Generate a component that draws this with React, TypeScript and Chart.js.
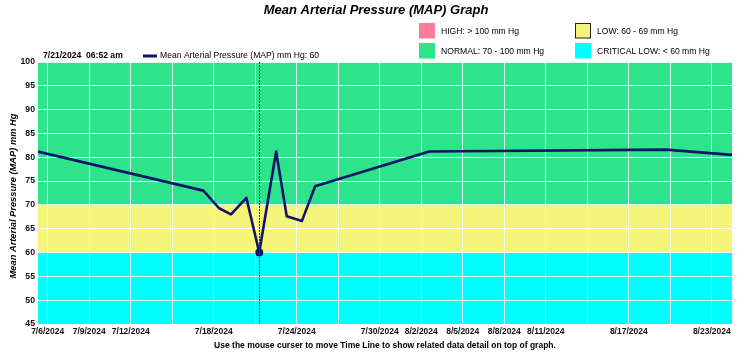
import React, { useEffect, useRef } from "react";
import { Chart, registerables } from "chart.js";

Chart.register(...registerables);

// Days counted from 7/6/2024 00:00
const tickDays = [0, 3, 6, 9, 12, 15, 18, 21, 24, 27, 30, 33, 36, 39, 42, 45, 48];
const tickLabels = [
  "7/6/2024", "7/9/2024", "7/12/2024", "", "7/18/2024", "", "7/24/2024", "",
  "7/30/2024", "8/2/2024", "8/5/2024", "8/8/2024", "8/11/2024", "", "8/17/2024", "", "8/23/2024",
];
const readingDays = [-0.7, 11.25, 12.39, 13.25, 14.36, 15.29, 16.51, 17.28, 18.37, 19.33, 27.57, 44.7, 49.46];
const mapValues = [81.2, 73.0, 69.3, 68.0, 71.5, 60, 81.2, 67.6, 66.6, 73.9, 81.2, 81.6, 80.5];
const selectedIndex = 5;
const selectedLabel = "7/21/2024  06:52 am";
const seriesName = "Mean Arterial Pressure (MAP) mm Hg";

const bandFrom = [45, 60, 70];
const bandTo = [60, 70, 100];
const bandColors = ["#00ffff", "#f5f57a", "#2ee48a"];

const legendLabels = ["HIGH: > 100 mm Hg", "NORMAL: 70 - 100 mm Hg", "LOW: 60 - 69 mm Hg", "CRITICAL LOW: < 60 mm Hg"];
const legendColors = ["#ff7b9c", "#2ee48a", "#f5f57a", "#00ffff"];

const SANS = "'Liberation Sans', Arial, sans-serif";
const LINE = "#12126a";

const decorPlugin = {
  id: "decor",
  beforeDraw(chart: any) {
    const { ctx, chartArea: a, scales } = chart;
    const y = scales.y;
    ctx.save();
    for (let i = 0; i < bandFrom.length; i++) {
      const top = y.getPixelForValue(bandTo[i]);
      const bot = y.getPixelForValue(bandFrom[i]);
      ctx.fillStyle = bandColors[i];
      ctx.fillRect(a.left, top, a.right - a.left, bot - top);
    }
    ctx.restore();
  },
  afterDatasetsDraw(chart: any) {
    const { ctx, chartArea: a, scales } = chart;
    const x = scales.x.getPixelForValue(readingDays[selectedIndex]);
    ctx.save();
    ctx.strokeStyle = "#333";
    ctx.lineWidth = 1;
    ctx.setLineDash([2, 1]);
    ctx.beginPath();
    ctx.moveTo(Math.round(x) + 0.5, a.top);
    ctx.lineTo(Math.round(x) + 0.5, a.bottom);
    ctx.stroke();
    ctx.restore();
  },
  afterDraw(chart: any) {
    const { ctx } = chart;
    ctx.save();
    ctx.fillStyle = "#000";
    ctx.textBaseline = "middle";
    // title
    ctx.textAlign = "center";
    ctx.font = `italic bold 13px ${SANS}`;
    ctx.fillText("Mean Arterial Pressure (MAP) Graph", 376, 10);
    // bottom note
    ctx.font = `bold 8.5px ${SANS}`;
    ctx.fillText("Use the mouse curser to move Time Line to show related data detail on top of graph.", 385, 346);
    // y title
    ctx.save();
    ctx.translate(13, 196);
    ctx.rotate(-Math.PI / 2);
    ctx.font = `italic bold 9.3px ${SANS}`;
    ctx.fillText(seriesName, 0, 0);
    ctx.restore();
    // selected date
    ctx.textAlign = "left";
    ctx.font = `bold 8.6px ${SANS}`;
    ctx.fillText(selectedLabel, 43, 56);
    // series legend
    ctx.strokeStyle = LINE;
    ctx.lineWidth = 3;
    ctx.beginPath();
    ctx.moveTo(143, 56);
    ctx.lineTo(157, 56);
    ctx.stroke();
    ctx.font = `8.6px ${SANS}`;
    ctx.fillText(`${seriesName}: ${mapValues[selectedIndex]}`, 160, 56);
    // range legend
    const pos = [
      [419, 23],
      [419, 43],
      [575, 23],
      [575, 43],
    ];
    for (let i = 0; i < legendLabels.length; i++) {
      const [bx, by] = pos[i];
      ctx.fillStyle = legendColors[i];
      ctx.fillRect(bx, by, 16, 15.5);
      if (i === 2) {
        ctx.strokeStyle = "#222";
        ctx.lineWidth = 1;
        ctx.strokeRect(bx + 0.5, by + 0.5, 15, 14.5);
      }
      ctx.fillStyle = "#000";
      ctx.font = `8.6px ${SANS}`;
      ctx.fillText(legendLabels[i], bx + 22, by + 8.5);
    }
    ctx.restore();
  },
};

export default function App() {
  const ref = useRef<HTMLCanvasElement>(null);
  useEffect(() => {
    if (!ref.current) return;
    const points = readingDays.map((d, i) => ({ x: d, y: mapValues[i] }));
    const chart = new Chart(ref.current, {
      type: "line",
      data: {
        datasets: [
          {
            label: seriesName,
            data: points,
            borderColor: LINE,
            backgroundColor: LINE,
            borderWidth: 2.6,
            borderJoinStyle: "round",
            pointRadius: mapValues.map((_, i) => (i === selectedIndex ? 4 : 0)),
            pointBackgroundColor: LINE,
            pointBorderWidth: 0,
            tension: 0,
            fill: false,
          },
        ],
      },
      options: {
        animation: false,
        responsive: true,
        maintainAspectRatio: false,
        devicePixelRatio: 1,
        layout: { padding: { top: 62, right: 18, bottom: 0, left: 0 } },
        plugins: { legend: { display: false }, tooltip: { enabled: false }, title: { display: false } },
        events: [],
        scales: {
          x: {
            type: "linear",
            min: readingDays[0],
            max: readingDays[readingDays.length - 1],
            afterBuildTicks: (s: any) => {
              s.ticks = tickDays.map((v) => ({ value: v }));
            },
            afterFit: (s: any) => {
              s.height = 30;
            },
            ticks: {
              autoSkip: false,
              maxRotation: 0,
              padding: 3,
              color: "#111",
              font: { family: SANS, size: 8.5, weight: "bold" },
              callback: (v: any) => {
                const i = tickDays.indexOf(Number(v));
                return i >= 0 ? tickLabels[i] : "";
              },
            },
            grid: { color: "rgba(255,255,255,0.85)", lineWidth: 1, drawTicks: false },
            border: { display: false },
          },
          y: {
            min: 45,
            max: 100,
            afterFit: (s: any) => {
              s.width = 38;
            },
            ticks: {
              stepSize: 5,
              padding: 3,
              color: "#111",
              font: { family: SANS, size: 8.7, weight: "bold" },
            },
            grid: { color: "rgba(255,255,255,0.85)", lineWidth: 1, drawTicks: false },
            border: { display: false },
          },
        },
      },
      plugins: [decorPlugin],
    });
    return () => chart.destroy();
  }, []);
  return (
    <div style={{ position: "absolute", left: 0, top: 0, width: 750, height: 354, background: "#fff" }}>
      <canvas ref={ref} />
    </div>
  );
}
